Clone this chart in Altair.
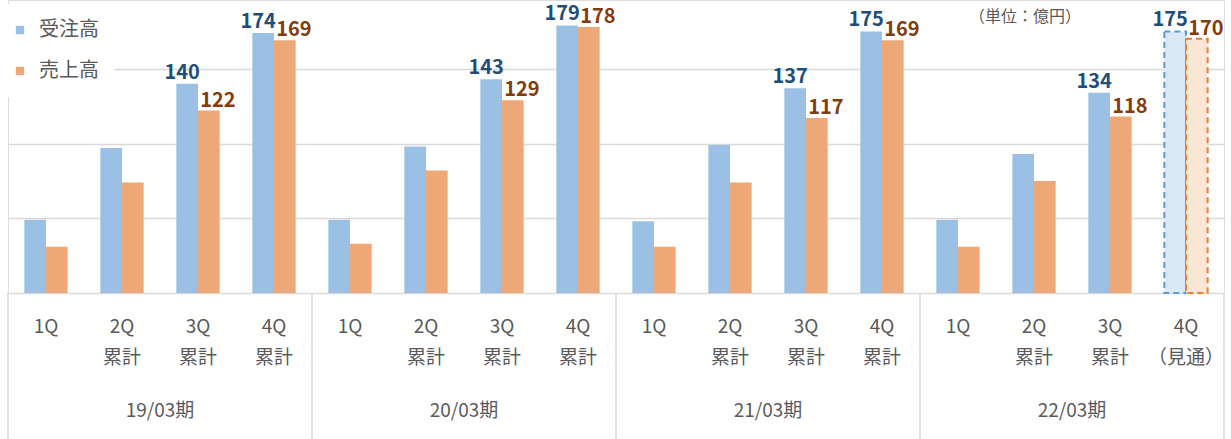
import altair as alt
import pandas as pd

groups = ["19/03期", "20/03期", "21/03期", "22/03期"]
q_line1 = ["1Q", "2Q", "3Q", "4Q"]
q_line2 = [["", "累計", "累計", "累計"],
           ["", "累計", "累計", "累計"],
           ["", "累計", "累計", "累計"],
           ["", "累計", "累計", "（見通）"]]
series = ["受注高", "売上高"]
orders = [49, 97, 140, 174, 49, 98, 143, 179, 48, 99, 137, 175, 49, 93, 134, 175]
sales = [31, 74, 122, 169, 33, 82, 129, 178, 31, 74, 117, 169, 31, 75, 118, 170]
forecast = [False] * 15 + [True]
labeled = [False, False, True, True] * 4

BLUE, ORANGE = "#9bc0e3", "#eea877"
BLUE_L, ORANGE_L = "#dbe9f6", "#fbe5d5"
BLUE_T, ORANGE_T = "#1f4e79", "#843c0c"
GRID = "#d9d9d9"
TXT = "#595959"
FONT = "Noto Sans CJK JP"

keys = []
rows = []
i = 0
for gi, g in enumerate(groups):
    for qi in range(4):
        key = f"{g}|{q_line1[qi]}|{q_line2[gi][qi]}"
        keys.append(key)
        rows.append(dict(cat=key, series=series[0], value=orders[i],
                         forecast=forecast[i], labeled=labeled[i] or forecast[i]))
        rows.append(dict(cat=key, series=series[1], value=sales[i],
                         forecast=forecast[i], labeled=labeled[i] or forecast[i]))
        i += 1
df = pd.DataFrame(rows)

group_df = pd.DataFrame({"g": groups, "center": [2, 6, 10, 14]})
bound_df = pd.DataFrame({"b": [0, 4, 8, 12, 16]})

W, H = 1216, 293

x_band = alt.X("cat:N",
               scale=alt.Scale(domain=keys, paddingInner=0.43, paddingOuter=0.215),
               axis=alt.Axis(title=None, labelAngle=0, ticks=False, grid=False,
                             domain=True, domainColor=GRID, domainWidth=1.5,
                             labelExpr="[split(datum.value,'|')[1], split(datum.value,'|')[2]]",
                             labelFont=FONT, labelFontSize=19, labelColor=TXT,
                             labelLineHeight=31, labelPadding=24, labelBaseline="top"))
y_q = alt.Y("value:Q", scale=alt.Scale(domain=[0, 196], nice=False, zero=True),
            axis=alt.Axis(title=None, labels=False, ticks=False, domain=False,
                          values=[50, 100, 150], gridColor=GRID, gridWidth=1.5))
xoff = alt.XOffset("series:N", scale=alt.Scale(domain=series, paddingInner=0, paddingOuter=0))

base = alt.Chart(df)

bars = base.transform_filter("!datum.forecast").mark_bar().encode(
    x=x_band, y=y_q, xOffset=xoff,
    color=alt.Color("series:N",
                    scale=alt.Scale(domain=series, range=[BLUE, ORANGE]),
                    legend=alt.Legend(title=None, orient="none", legendX=-14, legendY=4,
                                      fillColor="white", padding=16, symbolType="square",
                                      symbolSize=70, symbolStrokeWidth=0,
                                      labelFont=FONT, labelFontSize=20, labelColor=TXT,
                                      labelOffset=9, rowPadding=21, direction="vertical")),
)

fc_bars = base.transform_filter("datum.forecast").mark_bar(
    strokeDash=[6, 4], strokeWidth=2).encode(
    x=x_band, y=y_q, xOffset=xoff,
    fill=alt.condition("datum.series == '受注高'", alt.value(BLUE_L), alt.value(ORANGE_L)),
    stroke=alt.condition("datum.series == '受注高'", alt.value("#5b9bd5"), alt.value("#ed7d31")),
)

lbl_blue = base.transform_filter("datum.labeled && datum.series == '受注高'").mark_text(
    font=FONT, fontSize=20, fontWeight="bold", color=BLUE_T, baseline="alphabetic",
    dx=-5, dy=-5).encode(x=x_band, y=y_q, xOffset=xoff, text="value:Q")
lbl_orange = base.transform_filter("datum.labeled && datum.series == '売上高'").mark_text(
    font=FONT, fontSize=20, fontWeight="bold", color=ORANGE_T, baseline="alphabetic",
    dx=9, dy=-4).encode(x=x_band, y=y_q, xOffset=xoff, text="value:Q")

x_lin = alt.Scale(domain=[0, 16], nice=False, zero=False)
rules = alt.Chart(bound_df).mark_rule(color=GRID, strokeWidth=1.5).encode(
    x=alt.X("b:Q", scale=x_lin, axis=None),
    y=alt.value(H), y2=alt.value(439))
glabels = alt.Chart(group_df).mark_text(font=FONT, fontSize=19, color=TXT,
                                        baseline="middle").encode(
    x=alt.X("center:Q", scale=x_lin, axis=None), y=alt.value(411), text="g:N")
unit = alt.Chart(pd.DataFrame({"t": ["（単位：億円）"]})).mark_text(
    font=FONT, fontSize=16, color=TXT, baseline="middle").encode(
    x=alt.value(1017), y=alt.value(17), text="t:N")

main = alt.layer(bars, fc_bars, lbl_blue, lbl_orange, unit)
frame = alt.layer(rules, glabels)

chart = alt.layer(main, frame).resolve_scale(x="independent").properties(
    width=W, height=H,
    autosize=alt.AutoSizeParams(type="none"),
    padding={"left": 8, "top": 0, "right": 7, "bottom": 146},
).configure_view(stroke=None).configure(background="white")

chart.save("out.html", embed_options={"renderer": "svg", "actions": False})
